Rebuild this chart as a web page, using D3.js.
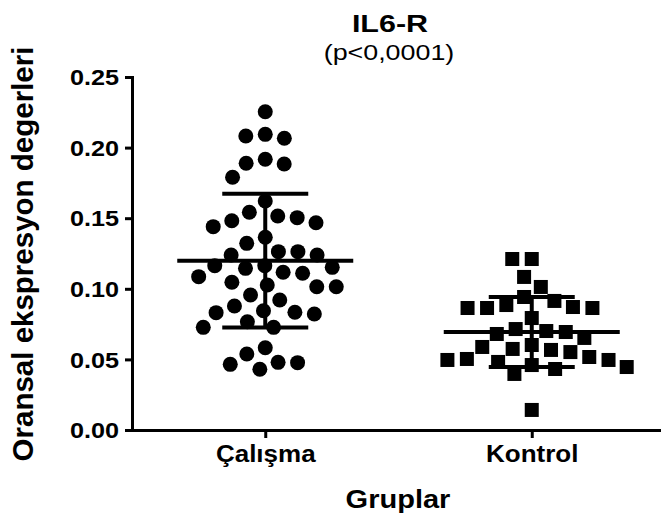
<!DOCTYPE html>
<html>
<head>
<meta charset="utf-8">
<script src="https://cdn.jsdelivr.net/npm/d3@7"></script>
<style>
  html, body { margin: 0; padding: 0; background: #fff; }
  svg { display: block; font-family: "Liberation Sans", Arial, sans-serif; }
</style>
</head>
<body>
<svg id="chart" width="661" height="520"></svg>
<script>
// Group names on the x axis
const categories = ["Çalışma", "Kontrol"];

// Relative expression values per group
const calisma = [
  0.2254, 0.2082, 0.2066, 0.2094, 0.1889, 0.1884, 0.1917, 0.1790,
  0.1622, 0.1516, 0.1482, 0.1440, 0.1468, 0.1504, 0.1542, 0.1365,
  0.1322, 0.1263, 0.1263, 0.1239, 0.1239, 0.1164, 0.1152, 0.1117,
  0.1086, 0.1110, 0.1145, 0.1164, 0.1046, 0.1015, 0.1015, 0.1027,
  0.0956, 0.0921, 0.0878, 0.0845, 0.0831, 0.0822, 0.0834, 0.0767,
  0.0727, 0.0727, 0.0583, 0.0538, 0.0477, 0.0430, 0.0465, 0.0479
];
const kontrol = [
  0.1211, 0.1211, 0.1084, 0.1013, 0.0942, 0.0914, 0.0885, 0.0864,
  0.0864, 0.0864, 0.0871, 0.0793, 0.0694, 0.0680, 0.0701, 0.0715,
  0.0652, 0.0588, 0.0574, 0.0552, 0.0567, 0.0602, 0.0503, 0.0496,
  0.0517, 0.0496, 0.0446, 0.0432, 0.0397, 0.0460, 0.0482, 0.0142
];

const yTicks = [0, 0.05, 0.10, 0.15, 0.20, 0.25];

const title = "IL6-R";
const subtitle = "(p<0,0001)";
const yTitle = "Oransal ekspresyon degerleri";
const xTitle = "Gruplar";

const svg = d3.select("#chart");

const frame = { left: 132, right: 665, bottom: 430, top: 77 };

const y = d3.scaleLinear().domain([0, 0.25]).range([frame.bottom, frame.top]);
const x = d3.scalePoint().domain(categories).range([frame.left, frame.right]).padding(0.5);

// Horizontally widened lettering
function widen(sel, factor) {
  sel.each(function () {
    const w = this.getComputedTextLength();
    d3.select(this).attr("textLength", w * factor).attr("lengthAdjust", "spacingAndGlyphs");
  });
}

// Y axis
const yAxis = svg.append("g")
  .attr("transform", `translate(${frame.left},0)`)
  .call(d3.axisLeft(y).tickValues(yTicks).tickFormat(d3.format(".2f")).tickSize(7).tickSizeOuter(0).tickPadding(6));
yAxis.select(".domain").attr("stroke-width", 3).attr("stroke-linecap", "square");
yAxis.selectAll(".tick line").attr("stroke-width", 3);
yAxis.selectAll(".tick text")
  .attr("font-size", 22.5).attr("font-weight", "bold").attr("fill", "#000")
  .attr("dy", "0.34em")
  .attr("font-family", "Liberation Sans, Arial, sans-serif")
  .call(widen, 1.12);

// X axis
const xAxis = svg.append("g")
  .attr("transform", `translate(0,${frame.bottom})`)
  .call(d3.axisBottom(x).tickSize(8).tickSizeOuter(0).tickPadding(8));
xAxis.select(".domain").attr("stroke-width", 3).attr("stroke-linecap", "square");
xAxis.selectAll(".tick line").attr("stroke-width", 3);
xAxis.selectAll(".tick text")
  .attr("font-size", 23).attr("font-weight", "bold").attr("fill", "#000")
  .attr("font-family", "Liberation Sans, Arial, sans-serif")
  .call(widen, 1.13);

// Beeswarm layout: each point takes the free x offset nearest the group centre
function swarm(values, diam) {
  const order = d3.range(values.length).sort((a, b) => d3.descending(values[a], values[b]));
  const placed = [];
  const out = new Array(values.length);
  for (const i of order) {
    const py = y(values[i]);
    const cands = [0];
    for (const p of placed) {
      const dy = Math.abs(p.y - py);
      if (dy < diam) {
        const dx = Math.sqrt(diam * diam - dy * dy);
        cands.push(p.x + dx, p.x - dx);
      }
    }
    cands.sort((a, b) => Math.abs(a) - Math.abs(b) || a - b);
    let best = 0;
    for (const c of cands) {
      const ok = placed.every(p => Math.hypot(p.x - c, p.y - py) >= diam - 0.01);
      if (ok) { best = c; break; }
    }
    placed.push({ x: best, y: py });
    out[i] = best;
  }
  return out;
}

const groups = [
  { name: categories[0], values: calisma, shape: "circle" },
  { name: categories[1], values: kontrol, shape: "square" }
];

groups.forEach(g => {
  const cx = x(g.name);
  const offs = swarm(g.values, 19.5);
  const layer = svg.append("g");
  if (g.shape === "circle") {
    layer.selectAll("circle").data(g.values).join("circle")
      .attr("cx", (d, i) => cx + offs[i])
      .attr("cy", d => y(d))
      .attr("r", 7.5)
      .attr("fill", "#000");
  } else {
    const s = 14;
    layer.selectAll("rect").data(g.values).join("rect")
      .attr("x", (d, i) => cx + offs[i] - s / 2)
      .attr("y", d => y(d) - s / 2)
      .attr("width", s).attr("height", s)
      .attr("fill", "#000");
  }

  // Mean ± SD
  const m = d3.mean(g.values);
  const sd = d3.deviation(g.values);
  const bars = svg.append("g").attr("stroke", "#000").attr("stroke-width", 4);
  bars.append("line")
    .attr("x1", cx).attr("x2", cx).attr("y1", y(m + sd)).attr("y2", y(m - sd));
  bars.append("line")
    .attr("x1", cx - 88).attr("x2", cx + 88).attr("y1", y(m)).attr("y2", y(m));
  [m + sd, m - sd].forEach(v => {
    bars.append("line")
      .attr("x1", cx - 43).attr("x2", cx + 43).attr("y1", y(v)).attr("y2", y(v));
  });
});

// Titles
svg.append("text")
  .attr("x", 390).attr("y", 32)
  .attr("text-anchor", "middle")
  .attr("font-size", 24).attr("font-weight", "bold")
  .text(title)
  .call(widen, 1.27);
svg.append("text")
  .attr("x", 389).attr("y", 60)
  .attr("text-anchor", "middle")
  .attr("font-size", 22)
  .text(subtitle)
  .call(widen, 1.22);
svg.append("text")
  .attr("transform", `translate(33,254) rotate(-90)`)
  .attr("text-anchor", "middle")
  .attr("font-size", 29.5).attr("font-weight", "bold")
  .text(yTitle);
svg.append("text")
  .attr("x", 398).attr("y", 508)
  .attr("text-anchor", "middle")
  .attr("font-size", 25).attr("font-weight", "bold")
  .text(xTitle)
  .call(widen, 1.16);
</script>
</body>
</html>
